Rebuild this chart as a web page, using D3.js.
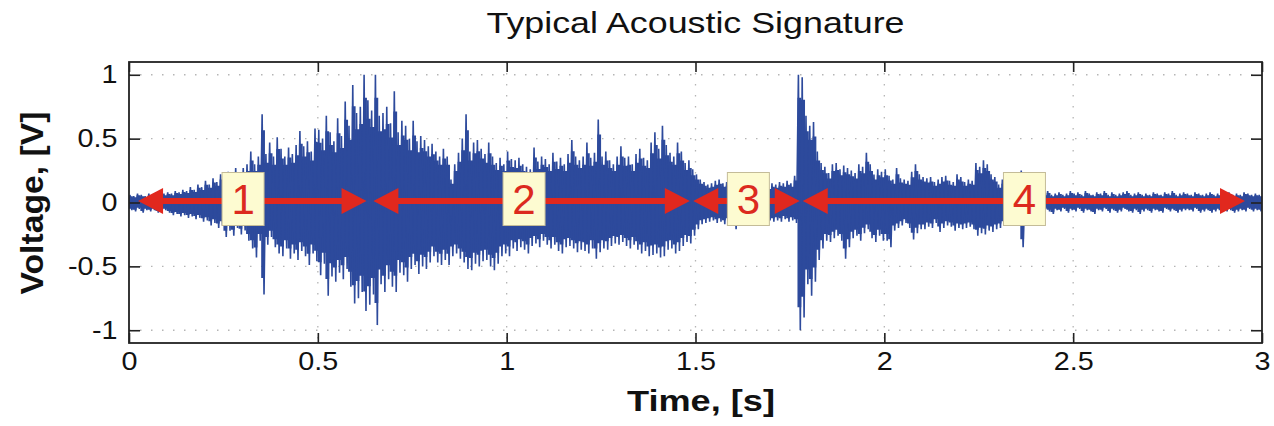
<!DOCTYPE html>
<html>
<head>
<meta charset="utf-8">
<title>Typical Acoustic Signature</title>
<script src="https://d3js.org/d3.v7.min.js"></script>
<style>
  body { margin: 0; background: #fff; }
  svg { display: block; }
  text { font-family: "Liberation Sans", Arial, Helvetica, sans-serif; }
</style>
</head>
<body>
<svg id="chart" width="1274" height="426"></svg>
<script>
// signal envelope, one max/min pair per 10 ms bin
var binWidth = 0.01;

var peakHigh = [
  0.06,0.05,0.07,0.06,0.05,0.07,0.06,0.08,0.06,0.07,
  0.08,0.07,0.09,0.08,0.10,0.09,0.12,0.10,0.14,0.12,
  0.17,0.14,0.19,0.16,0.22,0.18,0.24,0.21,0.27,0.22,
  0.27,0.30,0.40,0.30,0.36,0.69,0.38,0.47,0.36,0.51,
  0.42,0.36,0.43,0.38,0.45,0.56,0.44,0.48,0.40,0.58,
  0.57,0.50,0.68,0.55,0.48,0.66,0.52,0.79,0.60,0.92,
  0.70,0.75,1.00,0.80,0.72,1.00,0.68,0.70,0.75,0.62,
  0.87,0.55,0.64,0.60,0.50,0.64,0.48,0.52,0.49,0.44,
  0.46,0.40,0.36,0.42,0.36,0.18,0.30,0.39,0.50,0.69,
  0.40,0.47,0.49,0.42,0.38,0.47,0.36,0.31,0.35,0.30,
  0.40,0.34,0.33,0.35,0.30,0.28,0.26,0.43,0.32,0.36,
  0.34,0.30,0.39,0.32,0.35,0.30,0.38,0.49,0.36,0.33,
  0.36,0.47,0.35,0.39,0.65,0.36,0.40,0.33,0.30,0.36,
  0.44,0.35,0.36,0.30,0.38,0.42,0.35,0.33,0.47,0.55,
  0.42,0.60,0.45,0.39,0.36,0.47,0.40,0.31,0.33,0.26,
  0.22,0.18,0.16,0.14,0.15,0.17,0.18,0.15,0.16,0.14,
  0.14,0.13,0.15,0.12,0.14,0.13,0.15,0.12,0.14,0.13,
  0.15,0.14,0.16,0.15,0.17,0.15,0.21,1.00,0.98,0.68,
  0.60,0.63,0.40,0.31,0.28,0.23,0.30,0.31,0.26,0.29,
  0.27,0.25,0.23,0.30,0.28,0.39,0.30,0.22,0.26,0.24,
  0.26,0.21,0.18,0.27,0.19,0.18,0.17,0.24,0.30,0.22,
  0.20,0.19,0.20,0.16,0.18,0.20,0.21,0.17,0.16,0.22,
  0.20,0.16,0.18,0.17,0.31,0.28,0.33,0.30,0.22,0.20,
  0.14,0.18,0.15,0.16,0.14,0.13,0.25,0.12,0.10,0.10,
  0.08,0.06,0.07,0.09,0.06,0.07,0.08,0.06,0.07,0.09,
  0.07,0.08,0.06,0.09,0.07,0.06,0.08,0.07,0.09,0.06,
  0.08,0.06,0.07,0.08,0.09,0.06,0.07,0.08,0.06,0.07,
  0.06,0.08,0.07,0.06,0.08,0.07,0.09,0.06,0.07,0.08,
  0.07,0.06,0.08,0.07,0.06,0.07,0.08,0.06,0.07,0.06,
  0.07,0.08,0.06,0.07,0.06,0.08,0.07,0.06,0.07,0.06
];

var peakLow = [
  -0.06,-0.07,-0.05,-0.08,-0.06,-0.07,-0.06,-0.08,-0.07,-0.06,
  -0.08,-0.10,-0.09,-0.11,-0.10,-0.12,-0.11,-0.13,-0.12,-0.15,
  -0.14,-0.18,-0.16,-0.20,-0.18,-0.27,-0.22,-0.26,-0.20,-0.25,
  -0.22,-0.30,-0.36,-0.43,-0.30,-0.72,-0.33,-0.27,-0.35,-0.40,
  -0.42,-0.36,-0.44,-0.40,-0.45,-0.38,-0.42,-0.49,-0.40,-0.46,
  -0.57,-0.48,-0.73,-0.58,-0.62,-0.55,-0.60,-0.52,-0.66,-0.79,
  -0.75,-0.70,-0.85,-0.80,-0.72,-0.96,-0.64,-0.70,-0.60,-0.66,
  -0.70,-0.55,-0.57,-0.62,-0.52,-0.49,-0.56,-0.50,-0.52,-0.47,
  -0.42,-0.47,-0.49,-0.45,-0.49,-0.42,-0.40,-0.44,-0.47,-0.52,
  -0.53,-0.48,-0.50,-0.46,-0.45,-0.50,-0.53,-0.48,-0.42,-0.40,
  -0.42,-0.36,-0.38,-0.35,-0.37,-0.40,-0.34,-0.32,-0.35,-0.30,
  -0.33,-0.36,-0.33,-0.38,-0.40,-0.35,-0.34,-0.36,-0.39,-0.37,
  -0.38,-0.40,-0.36,-0.44,-0.39,-0.36,-0.37,-0.34,-0.32,-0.33,
  -0.31,-0.34,-0.36,-0.33,-0.37,-0.40,-0.38,-0.42,-0.41,-0.40,
  -0.43,-0.42,-0.37,-0.36,-0.40,-0.38,-0.34,-0.31,-0.32,-0.26,
  -0.21,-0.17,-0.16,-0.15,-0.14,-0.16,-0.15,-0.17,-0.15,-0.16,
  -0.21,-0.14,-0.13,-0.15,-0.12,-0.14,-0.13,-0.15,-0.12,-0.14,
  -0.15,-0.14,-0.15,-0.13,-0.15,-0.14,-0.16,-1.00,-0.90,-0.64,
  -0.73,-0.62,-0.45,-0.36,-0.30,-0.31,-0.28,-0.26,-0.30,-0.44,
  -0.35,-0.28,-0.26,-0.30,-0.24,-0.21,-0.28,-0.31,-0.26,-0.30,
  -0.30,-0.35,-0.22,-0.20,-0.18,-0.16,-0.20,-0.29,-0.24,-0.21,
  -0.21,-0.19,-0.20,-0.16,-0.23,-0.20,-0.18,-0.19,-0.22,-0.20,
  -0.21,-0.20,-0.19,-0.21,-0.26,-0.24,-0.25,-0.22,-0.23,-0.21,
  -0.20,-0.18,-0.16,-0.15,-0.14,-0.12,-0.35,-0.12,-0.10,-0.09,
  -0.06,-0.08,-0.05,-0.07,-0.09,-0.06,-0.07,-0.05,-0.08,-0.06,
  -0.07,-0.05,-0.08,-0.06,-0.07,-0.09,-0.06,-0.07,-0.05,-0.08,
  -0.06,-0.08,-0.07,-0.05,-0.07,-0.08,-0.06,-0.09,-0.07,-0.06,
  -0.08,-0.06,-0.07,-0.08,-0.05,-0.07,-0.06,-0.08,-0.07,-0.06,
  -0.06,-0.07,-0.05,-0.08,-0.07,-0.06,-0.08,-0.07,-0.06,-0.07,
  -0.07,-0.06,-0.08,-0.07,-0.06,-0.07,-0.05,-0.07,-0.06,-0.07
];

var xTicks = [0, 0.5, 1, 1.5, 2, 2.5, 3];
var yTicks = [-1, -0.5, 0, 0.5, 1];

// the four phases marked with arrows
var phaseNames = ["1", "2", "3", "4"];
var phaseStart = [0.024, 0.647, 1.494, 1.784];
var phaseEnd = [0.629, 1.485, 1.776, 2.955];
var phaseLabelAt = [0.302, 1.046, 1.640, 2.371];

(function() {
  var svg = d3.select("#chart");
  var pL = 129, pR = 1262, pT = 62, pB = 343;
  var blue = "#2d4a9c";

  var x = d3.scaleLinear().domain([0, 3]).range([pL, pR]);
  var y = d3.scaleLinear().domain([-1.1, 1.1]).range([pB, pT]);

  svg.append("defs").append("clipPath").attr("id", "plot")
    .append("rect")
    .attr("x", pL).attr("y", pT)
    .attr("width", pR - pL).attr("height", pB - pT);

  // dotted grid
  var grid = svg.append("g")
    .attr("stroke", "#b5b5b5")
    .attr("stroke-width", 1.3)
    .attr("stroke-dasharray", "1.5,9.5");
  grid.selectAll("line.gx")
    .data(xTicks.slice(1, -1))
    .enter().append("line")
    .attr("x1", d => x(d)).attr("x2", d => x(d))
    .attr("y1", pT).attr("y2", pB);
  grid.selectAll("line.gy")
    .data(yTicks)
    .enter().append("line")
    .attr("x1", pL).attr("x2", pR)
    .attr("y1", d => y(d)).attr("y2", d => y(d));

  var wave = svg.append("g").attr("clip-path", "url(#plot)");

  // filled envelope, one narrow block per bin
  var bins = peakHigh.map((h, i) => ({ t: i * binWidth, hi: h, lo: peakLow[i] }));
  bins.push({ t: bins.length * binWidth, hi: 0.06, lo: -0.06 });

  var env = d3.area()
    .curve(d3.curveStepAfter)
    .x(d => x(d.t))
    .y0(d => y(d.lo * 0.82))
    .y1(d => y(d.hi * 0.82));

  wave.append("path")
    .datum(bins)
    .attr("d", env)
    .attr("fill", blue);

  // waveform, drawn as max/min zigzag per bin
  var pts = [];
  peakHigh.forEach(function(h, i) {
    pts.push([i * binWidth + binWidth * 0.25, h]);
    pts.push([i * binWidth + binWidth * 0.75, peakLow[i]]);
  });

  var line = d3.line()
    .x(d => x(d[0]))
    .y(d => y(d[1]));

  wave.append("path")
    .datum(pts)
    .attr("d", line)
    .attr("fill", "none")
    .attr("stroke", blue)
    .attr("stroke-width", 1.6)
    .attr("stroke-linejoin", "miter");

  // phase arrows
  var red = "#e1281e";
  var ay = y(0.012);
  var headLen = 25, headHalf = 13;
  var arrows = svg.append("g");
  phaseNames.forEach(function(name, i) {
    var x0 = x(phaseStart[i]), x1 = x(phaseEnd[i]);
    arrows.append("line")
      .attr("x1", x0 + headLen - 2).attr("x2", x1 - headLen + 2)
      .attr("y1", ay).attr("y2", ay)
      .attr("stroke", red).attr("stroke-width", 6);
    arrows.append("path")
      .attr("d", "M" + x0 + "," + ay + "L" + (x0 + headLen) + "," + (ay - headHalf) +
                 "L" + (x0 + headLen) + "," + (ay + headHalf) + "Z")
      .attr("fill", red);
    arrows.append("path")
      .attr("d", "M" + x1 + "," + ay + "L" + (x1 - headLen) + "," + (ay - headHalf) +
                 "L" + (x1 - headLen) + "," + (ay + headHalf) + "Z")
      .attr("fill", red);
  });

  // labelled boxes
  var boxW = 42, boxH = 53, boxCy = y(0) - 3.5;
  var labels = svg.selectAll("g.phase")
    .data(phaseNames)
    .enter().append("g")
    .attr("class", "phase")
    .attr("transform", (d, i) => "translate(" + x(phaseLabelAt[i]) + "," + boxCy + ")");
  labels.append("rect")
    .attr("x", -boxW / 2).attr("y", -boxH / 2)
    .attr("width", boxW).attr("height", boxH)
    .attr("fill", "#fdfbd1")
    .attr("stroke", "#c4bc98")
    .attr("stroke-width", 1);
  labels.append("text")
    .attr("text-anchor", "middle")
    .attr("y", 15)
    .attr("font-size", 42)
    .attr("fill", "#dc2a1e")
    .text(d => d);

  // axes with inward ticks on all four sides
  var fmt = d => String(d);
  var styleAxis = function(g, withLabels) {
    g.select(".domain").remove();
    g.selectAll(".tick line").attr("stroke", "#222").attr("stroke-width", 1.6);
    if (withLabels) {
      g.selectAll(".tick text")
        .attr("font-size", 25)
        .attr("fill", "#111")
        .attr("font-family", "'Liberation Sans', Arial, sans-serif")
        .attr("transform", "scale(1.15,1)");
    } else {
      g.selectAll(".tick text").remove();
    }
  };

  svg.append("g")
    .attr("transform", "translate(0," + pB + ")")
    .call(d3.axisBottom(x).tickValues(xTicks).tickFormat(fmt).tickSize(-10).tickPadding(9))
    .call(g => styleAxis(g, true));
  svg.append("g")
    .attr("transform", "translate(0," + pT + ")")
    .call(d3.axisTop(x).tickValues(xTicks).tickSize(-10))
    .call(g => styleAxis(g, false));
  svg.append("g")
    .attr("transform", "translate(" + pL + ",0)")
    .call(d3.axisLeft(y).tickValues(yTicks).tickFormat(fmt).tickSize(-11).tickPadding(10))
    .call(g => styleAxis(g, true));
  svg.append("g")
    .attr("transform", "translate(" + pR + ",0)")
    .call(d3.axisRight(y).tickValues(yTicks).tickSize(-11))
    .call(g => styleAxis(g, false));

  svg.append("rect")
    .attr("x", pL).attr("y", pT)
    .attr("width", pR - pL).attr("height", pB - pT)
    .attr("fill", "none")
    .attr("stroke", "#222")
    .attr("stroke-width", 1.8);

  // titles
  svg.append("text")
    .attr("x", (pL + pR) / 2).attr("y", 33)
    .attr("text-anchor", "middle")
    .attr("font-size", 29)
    .attr("textLength", 418)
    .attr("lengthAdjust", "spacingAndGlyphs")
    .attr("fill", "#111")
    .text("Typical Acoustic Signature");

  svg.append("text")
    .attr("x", 701).attr("y", 411)
    .attr("text-anchor", "middle")
    .attr("font-size", 30)
    .attr("font-weight", "bold")
    .attr("textLength", 148)
    .attr("lengthAdjust", "spacingAndGlyphs")
    .attr("fill", "#111")
    .text("Time, [s]");

  svg.append("text")
    .attr("transform", "translate(43,203) rotate(-90)")
    .attr("text-anchor", "middle")
    .attr("font-size", 32)
    .attr("font-weight", "bold")
    .attr("textLength", 183)
    .attr("lengthAdjust", "spacingAndGlyphs")
    .attr("fill", "#111")
    .text("Voltage, [V]");
})();
</script>
